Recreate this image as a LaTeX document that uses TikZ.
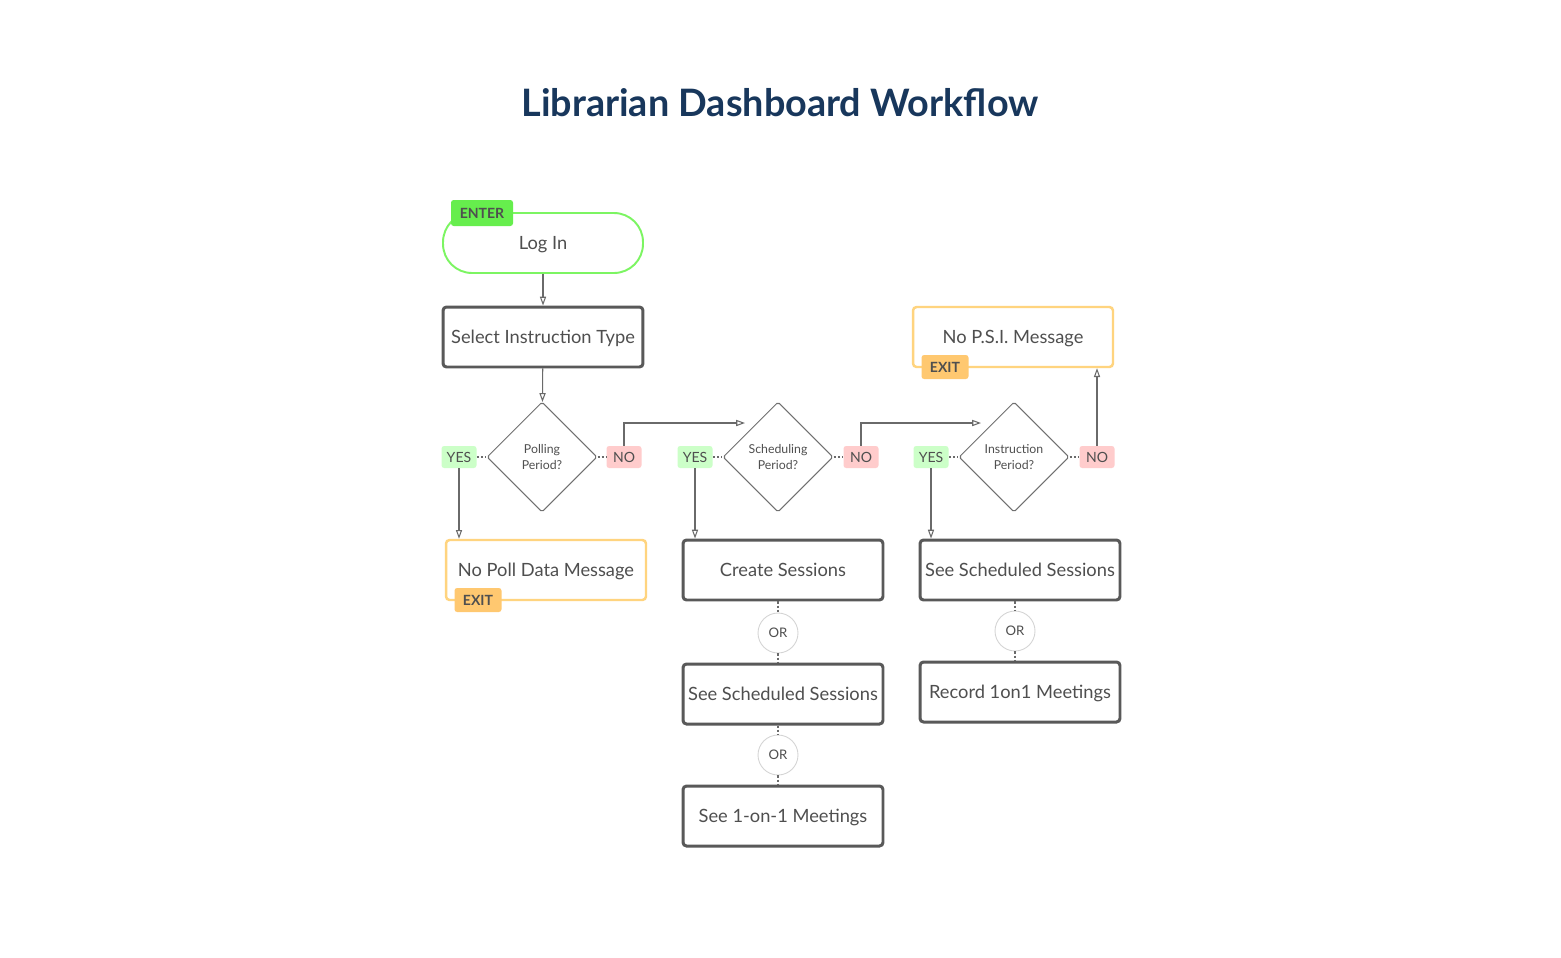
\documentclass[tikz,border=0pt]{standalone}
\usepackage{fontspec}
\setmainfont{Lato}
\usetikzlibrary{shapes.geometric,arrows.meta}

\definecolor{titleblue}{HTML}{18375C}
\definecolor{txtgray}{HTML}{4F4F4F}
\definecolor{boxgray}{HTML}{595959}
\definecolor{linegray}{HTML}{6A6A6A}
\definecolor{diagray}{HTML}{707070}
\definecolor{orgray}{HTML}{D4D4D4}
\definecolor{enterline}{HTML}{7CF562}
\definecolor{enterfill}{HTML}{66EE4D}
\definecolor{exitline}{HTML}{FFD47F}
\definecolor{exitfill}{HTML}{FFC870}
\definecolor{yesfill}{HTML}{CCFFC8}
\definecolor{nofill}{HTML}{FFCCCC}

\begin{document}
\begin{tikzpicture}[x=0.02cm,y=-0.02cm,
  every node/.style={text=txtgray,font=\fontsize{10.4}{12}\selectfont},
  stepbox/.style={draw=boxgray,line width=1.7pt,rounded corners=2pt,
    minimum width=4cm,minimum height=1.2cm,inner sep=0pt,
    text height=7.4pt,text depth=0pt},
  exitbox/.style={stepbox,draw=exitline,line width=1.4pt},
  startbox/.style={stepbox,draw=enterline,line width=1.1pt,rounded corners=0.58cm},
  decision/.style={diamond,draw=diagray,line width=0.6pt,rounded corners=1pt,
    minimum width=2.2cm,minimum height=2.2cm,inner sep=0pt,align=center,
    font=\fontsize{7}{9}\selectfont},
  tag/.style={rounded corners=1.5pt,inner sep=0pt,minimum height=0.48cm,
    text height=5.8pt,text depth=0pt,font=\bfseries\fontsize{8}{9}\selectfont},
  entertag/.style={tag,fill=enterfill,minimum width=1.24cm,minimum height=0.52cm},
  exittag/.style={tag,fill=exitfill,minimum width=0.94cm},
  yestag/.style={tag,fill=yesfill,minimum width=0.7cm,minimum height=0.44cm,
    font=\fontsize{8}{9}\selectfont},
  notag/.style={yestag,fill=nofill},
  orcircle/.style={circle,draw=orgray,line width=0.5pt,minimum size=0.8cm,
    inner sep=0pt,font=\fontsize{7.5}{9}\selectfont},
  arr/.style={draw=linegray,line width=0.6pt,-{Triangle[open,length=5pt,width=3.5pt]}},
  dots/.style={draw=linegray,line width=0.6pt,dash pattern=on 1.2pt off 1.2pt}]

\fill[white] (0,0) rectangle (1561,957);
\useasboundingbox (0,0) rectangle (1561,957);

\node[text=titleblue,font=\bfseries\fontsize{21.5}{24}\selectfont] (title) at (780,103)
  {Librarian Dashboard Workflow};

% first column
\node[startbox] (login) at (543,243) {Log In};
\node[entertag] (enter) at (482,213) {ENTER};
\node[stepbox] (select) at (543,337) {Select Instruction Type};
\node[decision] (poll) at (542,457) {Polling\\Period?};
\node[yestag] (yes1) at (459,457) {YES};
\node[notag] (no1) at (624,457) {NO};
\node[exitbox] (nopoll) at (546,570) {No Poll Data Message};
\node[exittag] (exit1) at (478,600) {EXIT};

% second column
\node[decision] (sched) at (778,457) {Scheduling\\Period?};
\node[yestag] (yes2) at (695,457) {YES};
\node[notag] (no2) at (861,457) {NO};
\node[stepbox] (create) at (783,570) {Create Sessions};
\node[orcircle] (or1) at (778,633) {OR};
\node[stepbox] (seesched) at (783,694) {See Scheduled Sessions};
\node[orcircle] (or2) at (778,755) {OR};
\node[stepbox] (seemeet) at (783,816) {See 1-on-1 Meetings};
\coordinate (schedin) at (745,423);

% third column
\node[decision] (instr) at (1014,457) {Instruction\\Period?};
\node[yestag] (yes3) at (931,457) {YES};
\node[notag] (no3) at (1097,457) {NO};
\node[stepbox] (seesched2) at (1020,570) {See Scheduled Sessions};
\node[orcircle] (or3) at (1015,631) {OR};
\node[stepbox] (record) at (1020,692) {Record 1on1 Meetings};
\node[exitbox] (nopsi) at (1013,337) {No P.S.I. Message};
\node[exittag] (exit2) at (945,367) {EXIT};
\coordinate (instrin) at (981,423);

\draw[arr] (login) -- (select);
\draw[arr] (select) -- (poll);
\draw[dots] (yes1) -- (poll);
\draw[dots] (poll) -- (no1);
\draw[arr] (yes1.south) -- (yes1.south |- nopoll.north);
\draw[arr] (no1.north) |- (schedin);

\draw[dots] (yes2) -- (sched);
\draw[dots] (sched) -- (no2);
\draw[arr] (yes2.south) -- (yes2.south |- create.north);
\draw[dots] (or1 |- create.south) -- (or1);
\draw[dots] (or1) -- (or1 |- seesched.north);
\draw[dots] (or2 |- seesched.south) -- (or2);
\draw[dots] (or2) -- (or2 |- seemeet.north);
\draw[arr] (no2.north) |- (instrin);

\draw[dots] (yes3) -- (instr);
\draw[dots] (instr) -- (no3);
\draw[arr] (yes3.south) -- (yes3.south |- seesched2.north);
\draw[dots] (or3 |- seesched2.south) -- (or3);
\draw[dots] (or3) -- (or3 |- record.north);
\draw[arr] (no3.north) -- (no3.north |- nopsi.south);

\end{tikzpicture}
\end{document}
